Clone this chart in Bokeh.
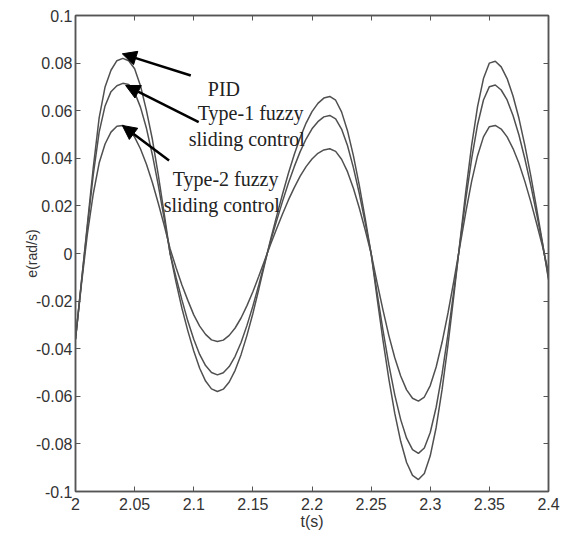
from bokeh.plotting import figure
from bokeh.models import Range1d, FixedTicker, LinearAxis, Arrow, NormalHead, Label
from bokeh.embed import file_html
from bokeh.resources import INLINE

# ---------------- data ----------------
t = [2.000, 2.005, 2.010, 2.015, 2.020, 2.025, 2.030, 2.035, 2.040, 2.045,
     2.050, 2.055, 2.060, 2.065, 2.070, 2.075, 2.080, 2.085, 2.090, 2.095,
     2.100, 2.105, 2.110, 2.115, 2.120, 2.125, 2.130, 2.135, 2.140, 2.145,
     2.150, 2.155, 2.160, 2.165, 2.170, 2.175, 2.180, 2.185, 2.190, 2.195,
     2.200, 2.205, 2.210, 2.215, 2.220, 2.225, 2.230, 2.235, 2.240, 2.245,
     2.250, 2.255, 2.260, 2.265, 2.270, 2.275, 2.280, 2.285, 2.290, 2.295,
     2.300, 2.305, 2.310, 2.315, 2.320, 2.325, 2.330, 2.335, 2.340, 2.345,
     2.350, 2.355, 2.360, 2.365, 2.370, 2.375, 2.380, 2.385, 2.390, 2.395,
     2.400]

e_pid = [-0.036, -0.012, 0.012, 0.036, 0.057, 0.070, 0.077, 0.081, 0.082, 0.081,
         0.0776, 0.0704, 0.060, 0.048, 0.033, 0.0168, 0.000, -0.012, -0.023, -0.0325,
         -0.041, -0.0482, -0.0536, -0.0569, -0.058, -0.057, -0.054, -0.0491, -0.0425, -0.0344,
         -0.0252, -0.015, -0.0044, 0.0059, 0.0155, 0.0248, 0.0336, 0.0416, 0.0487, 0.0548,
         0.0596, 0.0631, 0.0653, 0.066, 0.0644, 0.0595, 0.0516, 0.0411, 0.0286, 0.0147,
         0.000, -0.0185, -0.0364, -0.0528, -0.0672, -0.0789, -0.0878, -0.0932, -0.095, -0.0924,
         -0.085, -0.0731, -0.0572, -0.0384, -0.0175, 0.0044, 0.0258, 0.0454, 0.0617, 0.0735,
         0.080, 0.0808, 0.0784, 0.0735, 0.0662, 0.0568, 0.0454, 0.0327, 0.0188, 0.0044,
         -0.011]

e_type1 = [-0.036, -0.012, 0.011, 0.033, 0.051, 0.062, 0.068, 0.0705, 0.0715, 0.071,
           0.0677, 0.0614, 0.0526, 0.0415, 0.0287, 0.0147, 0.000, -0.010, -0.0195, -0.0284,
           -0.036, -0.0424, -0.0471, -0.050, -0.051, -0.0501, -0.0475, -0.0432, -0.0374, -0.0302,
           -0.0221, -0.0132, -0.0038, 0.0052, 0.0136, 0.0218, 0.0295, 0.0365, 0.0428, 0.0481,
           0.0524, 0.0554, 0.0574, 0.058, 0.0566, 0.0523, 0.0454, 0.0361, 0.0252, 0.0129,
           0.000, -0.0164, -0.0322, -0.0467, -0.0594, -0.0698, -0.0776, -0.0824, -0.084, -0.0817,
           -0.0752, -0.0646, -0.0506, -0.0339, -0.0155, 0.0038, 0.0226, 0.0398, 0.0541, 0.0645,
           0.0701, 0.0708, 0.0687, 0.0645, 0.058, 0.0498, 0.0398, 0.0287, 0.0165, 0.0038,
           -0.010]

e_type2 = [-0.036, -0.013, 0.008, 0.025, 0.038, 0.046, 0.051, 0.0535, 0.0538, 0.0522,
           0.0489, 0.0439, 0.0375, 0.0298, 0.0211, 0.0118, 0.002, -0.0059, -0.0132, -0.0197,
           -0.0258, -0.0305, -0.034, -0.0363, -0.037, -0.0364, -0.0344, -0.0313, -0.0271, -0.0219,
           -0.0161, -0.0096, -0.0028, 0.0039, 0.0103, 0.0165, 0.0224, 0.0277, 0.0325, 0.0365,
           0.0397, 0.0421, 0.0435, 0.044, 0.0429, 0.0396, 0.0344, 0.0274, 0.0191, 0.0098,
           0.000, -0.0121, -0.0237, -0.0345, -0.0438, -0.0515, -0.0573, -0.0608, -0.062, -0.0603,
           -0.0555, -0.0477, -0.0373, -0.025, -0.0114, 0.0029, 0.0172, 0.0303, 0.0411, 0.049,
           0.0533, 0.0538, 0.0523, 0.049, 0.0441, 0.0379, 0.0303, 0.0218, 0.0125, 0.0029,
           -0.008]

x_ticks = [2.0, 2.05, 2.1, 2.15, 2.2, 2.25, 2.3, 2.35, 2.4]
x_tick_labels = ["2", "2.05", "2.1", "2.15", "2.2", "2.25", "2.3", "2.35", "2.4"]
y_ticks = [-0.1, -0.08, -0.06, -0.04, -0.02, 0.0, 0.02, 0.04, 0.06, 0.08, 0.1]
y_tick_labels = ["-0.1", "-0.08", "-0.06", "-0.04", "-0.02", "0", "0.02", "0.04", "0.06", "0.08", "0.1"]

# ---------------- figure ----------------
p = figure(width=564, height=547, output_backend="svg", toolbar_location=None,
           x_range=Range1d(2.0, 2.4), y_range=Range1d(-0.1, 0.1),
           min_border_left=75, min_border_right=16, min_border_top=15, min_border_bottom=56)
p.grid.visible = False
p.outline_line_color = "#555555"
p.outline_line_width = 1.5
p.background_fill_color = "white"
p.border_fill_color = "white"

SANS = "Liberation Sans"
AX = "#555555"
LBL = "#333333"

def style_axis(ax, show_labels):
    ax.axis_line_color = AX
    ax.axis_line_width = 1.5
    ax.major_tick_line_color = AX
    ax.major_tick_line_width = 1
    ax.major_tick_in = 5
    ax.major_tick_out = 0
    ax.minor_tick_line_color = None
    if show_labels:
        ax.major_label_text_font = SANS
        ax.major_label_text_font_size = "16px"
        ax.major_label_text_color = LBL
    else:
        ax.major_label_text_font_size = "1px"
        ax.major_label_text_color = None
        ax.major_label_standoff = 0

xa = p.xaxis[0]
ya = p.yaxis[0]
xa.ticker = FixedTicker(ticks=x_ticks)
ya.ticker = FixedTicker(ticks=y_ticks)
xa.major_label_overrides = dict(zip(x_ticks, x_tick_labels))
ya.major_label_overrides = dict(zip(y_ticks, y_tick_labels))
style_axis(xa, True)
style_axis(ya, True)
xa.major_label_standoff = 6
ya.major_label_standoff = 3
xa.axis_label = "t(s)"
ya.axis_label = "e(rad/s)"
for ax in (xa, ya):
    ax.axis_label_text_font = SANS
    ax.axis_label_text_font_style = "normal"
    ax.axis_label_text_color = LBL
ya.axis_label_text_font_size = "14px"
xa.axis_label_text_font_size = "16px"
xa.axis_label_standoff = 0
ya.axis_label_standoff = -7

top = LinearAxis(ticker=FixedTicker(ticks=x_ticks))
right = LinearAxis(ticker=FixedTicker(ticks=y_ticks))
style_axis(top, False)
style_axis(right, False)
p.add_layout(top, "above")
p.add_layout(right, "right")

# ---------------- curves ----------------
LINE = "#505050"
p.line(t, e_pid, line_color=LINE, line_width=1.5)
p.line(t, e_type1, line_color=LINE, line_width=1.5)
p.line(t, e_type2, line_color=LINE, line_width=1.5)

# ---------------- annotations ----------------
SERIF = "Liberation Serif"
notes = [
    ("PID", 2.1119, 0.0693),
    ("Type-1 fuzzy", 2.1034, 0.0590),
    ("sliding control", 2.0958, 0.0483),
    ("Type-2 fuzzy", 2.0822, 0.0315),
    ("sliding control", 2.0746, 0.0202),
]
for txt, xx, yy in notes:
    p.add_layout(Label(x=xx, y=yy, text=txt, text_font=SERIF, text_font_size="20px",
                       text_color="#222222", text_baseline="middle", text_align="left"))

arrows = [
    (2.0975, 0.0748, 2.0396, 0.0839),
    (2.1042, 0.0552, 2.0424, 0.0706),
    (2.0791, 0.0391, 2.0396, 0.0538),
]
for xs, ys, xe, ye in arrows:
    p.add_layout(Arrow(end=NormalHead(size=14, fill_color="black", line_color="black"),
                       x_start=xs, y_start=ys, x_end=xe, y_end=ye,
                       line_color="black", line_width=2.5))

open("out.html", "w").write(file_html(p, INLINE))
